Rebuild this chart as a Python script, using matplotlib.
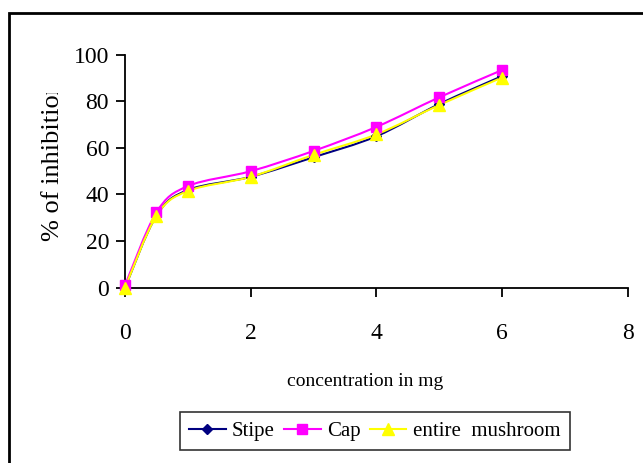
import matplotlib
matplotlib.use("Agg")
import matplotlib.pyplot as plt
from matplotlib.path import Path
from matplotlib.patches import PathPatch, Rectangle
from matplotlib.lines import Line2D
from matplotlib.transforms import Bbox, TransformedBbox
import numpy as np

plt.rcParams['font.family'] = ['Liberation Serif', 'DejaVu Serif']

concentration = [0, 0.5, 1, 2, 3, 4, 5, 6]
stipe = [0, 30.9, 41.9, 47.6, 56.0, 65.0, 78.8, 90.8]
cap = [1, 32.3, 43.6, 50.0, 58.7, 69.0, 81.7, 93.4]
entire = [0, 30.8, 41.5, 47.6, 57.0, 65.8, 78.4, 90.2]

series_names = ["Stipe", "Cap", "entire  mushroom"]
colors = ["#000080", "#FF00FF", "#FFFF00"]
markers = ["D", "s", "^"]
msizes = [5, 7, 8]

x_ticks = [0, 2, 4, 6, 8]
y_ticks = [0, 20, 40, 60, 80, 100]

fig = plt.figure(figsize=(6.43, 4.63), dpi=100)
W, H = 643, 463
ax = fig.add_axes([125 / W, 1 - 287.7 / H, (627.7 - 125) / W, (287.7 - 54.7) / H])


def smooth_path(xs, ys, t=1 / 6):
    xs = np.asarray(xs, float)
    ys = np.asarray(ys, float)
    n = len(xs)
    verts = [(xs[0], ys[0])]
    codes = [Path.MOVETO]
    for i in range(n - 1):
        p0 = (xs[max(i - 1, 0)], ys[max(i - 1, 0)])
        p1 = (xs[i], ys[i])
        p2 = (xs[i + 1], ys[i + 1])
        p3 = (xs[min(i + 2, n - 1)], ys[min(i + 2, n - 1)])
        c1 = (p1[0] + (p2[0] - p0[0]) * t, p1[1] + (p2[1] - p0[1]) * t)
        c2 = (p2[0] - (p3[0] - p1[0]) * t, p2[1] - (p3[1] - p1[1]) * t)
        verts += [c1, c2, p2]
        codes += [Path.CURVE4] * 3
    return Path(verts, codes)


for ys, c, m, ms in zip([stipe, cap, entire], colors, markers, msizes):
    ax.add_patch(PathPatch(smooth_path(concentration, ys), facecolor="none",
                           edgecolor=c, lw=1.5, zorder=2))
    ax.plot(concentration, ys, linestyle="none", marker=m, ms=ms,
            color=c, mec=c, zorder=3, clip_on=False)

ax.set_xlim(0, 8)
ax.set_ylim(0, 100)
ax.set_xticks(x_ticks)
ax.set_yticks(y_ticks)
ax.spines['top'].set_visible(False)
ax.spines['right'].set_visible(False)
for s in ['left', 'bottom']:
    ax.spines[s].set_linewidth(1.3)
ax.tick_params(direction='out', length=6.5, width=1.3, labelsize=17)
ax.tick_params(axis='y', pad=5)
ax.tick_params(axis='x', pad=19)

fig.text(365.5 / W, 1 - 382 / H, "concentration in mg",
         ha='center', va='center', fontsize=14)

yl = fig.text(53 / W, 1 - 241 / H, "% of inhibition", rotation=90,
              ha='center', va='bottom', fontsize=19)
yl.set_clip_box(TransformedBbox(Bbox([[0, 0], [1, 1 - 93 / H]]), fig.transFigure))
yl.set_clip_on(True)

handles = [Line2D([], [], color=c, marker=m, ms=ms, lw=1.5, mec=c)
           for c, m, ms in zip(colors, markers, msizes)]
leg = fig.legend(handles, series_names, loc='center',
                 bbox_to_anchor=((182.7 + 566.7) / 2 / W, 1 - 431 / H),
                 ncol=3, fontsize=15, frameon=True, fancybox=False,
                 handlelength=1.75, handletextpad=0.3, columnspacing=0.45,
                 borderpad=0.45, borderaxespad=0)
leg.get_frame().set_edgecolor('black')
leg.get_frame().set_linewidth(1.2)

fig.patches.append(Rectangle((9 / W, -0.1), 1.2, 1 - 13 / H + 0.1,
                             transform=fig.transFigure, fill=False,
                             edgecolor='black', lw=2, zorder=0))

fig.savefig("out.png", dpi=100)
